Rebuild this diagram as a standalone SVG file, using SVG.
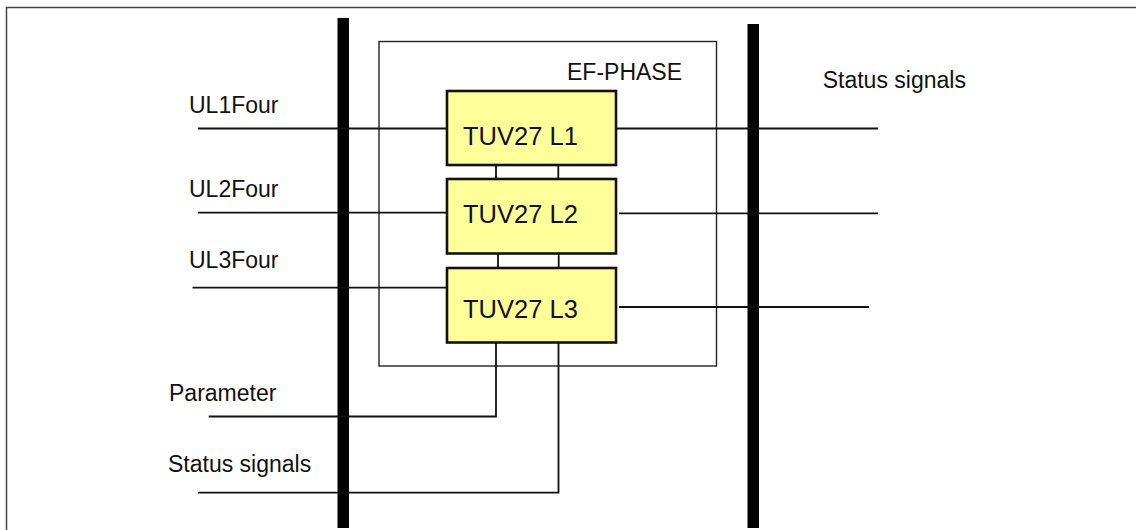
<svg xmlns="http://www.w3.org/2000/svg" width="1136" height="530" viewBox="0 0 1136 530">
<style>
text{font-family:"Liberation Sans",Arial,sans-serif;fill:#111}
.lbl{font-size:23px}
.blk{font-size:25.5px}
.wire{fill:none;stroke:#111;stroke-width:1.8}
.box{fill:#FFFF99;stroke:#111;stroke-width:2.6}
.bar{fill:#000}
</style>
<rect x="0" y="0" width="1136" height="530" fill="#fff"/>
<g id="frame" fill="none" stroke="#444" stroke-width="1.5">
<path d="M6.5 530 V7.5 H1136"/>
</g>
<g id="bars">
<rect class="bar" x="337.5" y="18" width="11.5" height="510"/>
<rect class="bar" x="747.5" y="24" width="11.5" height="504"/>
</g>
<g id="ef-phase">
<rect x="379" y="41.5" width="337.5" height="324.5" fill="none" stroke="#222" stroke-width="1.4"/>
<text class="lbl" x="567" y="80">EF-PHASE</text>
</g>
<g id="connectors">
<path class="wire" d="M198 128.5 H447"/>
<path class="wire" d="M198 212.7 H447"/>
<path class="wire" d="M192.5 287.7 H447"/>
<path class="wire" d="M208.7 416.5 H496 V342.5"/>
<path class="wire" d="M198 492.7 H558.5 V342.5"/>
<path class="wire" d="M616 128.5 H878"/>
<path class="wire" d="M619 213.3 H878"/>
<path class="wire" d="M619 307 H869"/>
<path class="wire" d="M496 165 V179 M558.3 165 V179"/>
<path class="wire" d="M498 253.5 V268 M558.7 253.5 V268"/>
</g>
<g id="tuv27-l1">
<rect class="box" x="447" y="91" width="169" height="74"/>
<text class="blk" x="463" y="145">TUV27 L1</text>
</g>
<g id="tuv27-l2">
<rect class="box" x="447" y="179" width="169" height="74.5"/>
<text class="blk" x="463" y="223.3">TUV27 L2</text>
</g>
<g id="tuv27-l3">
<rect class="box" x="447" y="268" width="169" height="74.5"/>
<text class="blk" x="463" y="318.3">TUV27 L3</text>
</g>
<g id="labels">
<text class="lbl" x="189" y="113.3">UL1Four</text>
<text class="lbl" x="189" y="197">UL2Four</text>
<text class="lbl" x="189" y="267.7">UL3Four</text>
<text class="lbl" x="169" y="401">Parameter</text>
<text class="lbl" x="168" y="472.3">Status signals</text>
<text class="lbl" x="822.7" y="88.3">Status signals</text>
</g>
</svg>
